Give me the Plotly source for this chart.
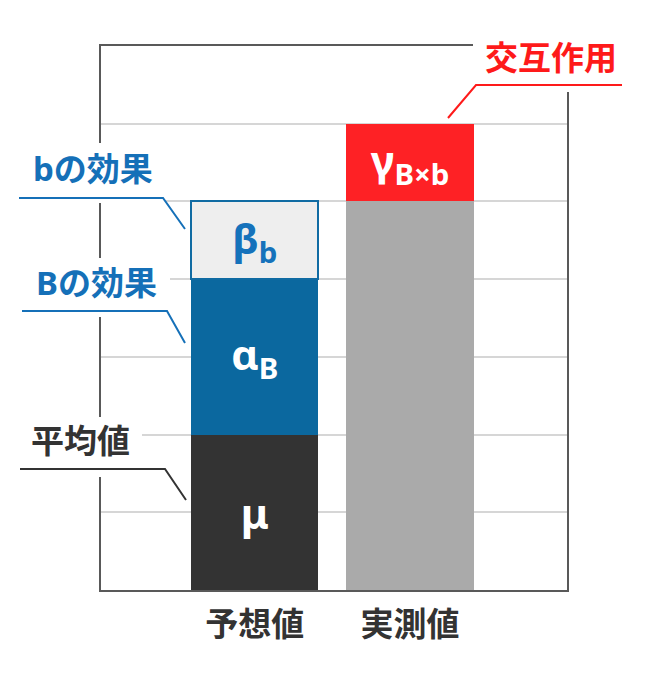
import plotly.graph_objects as go

categories = ["予想値", "実測値"]
grand_mean = [2, None]
effect_B = [2, None]
effect_b = [1, None]
observed = [None, 5]
interaction = [None, 1]

mu_text = ["μ", None]
alpha_text = ["α<sub>B</sub>", None]
beta_text = ["β<sub>b</sub>", None]
gamma_text = [None, "γ<sub>B×b</sub>"]
observed_text = [None, None]

FONT = "Noto Sans, Noto Sans CJK JP"
W, H = 654, 674
OFF = 8  # page body margin
# plot rectangle as seen in the window
PX0, PX1, PY0, PY1 = 101, 567, 46, 590


def fx(px):
    return (px - PX0) / (PX1 - PX0)


def fy(py):
    return (PY1 - py) / (PY1 - PY0)


def segment(vals, text, fill, txt_color, line_color=None, line_w=0):
    # keep only the categories this segment belongs to
    keep = [i for i, v in enumerate(vals) if v is not None]
    return go.Bar(
        x=[categories[i] for i in keep],
        y=[vals[i] for i in keep],
        text=[text[i] or "" for i in keep],
        width=0.82,
        marker=dict(color=fill, line=dict(color=line_color or fill, width=line_w)),
        textposition="inside" if any(text[i] for i in keep) else "none",
        insidetextanchor="middle",
        textangle=0,
        textfont=dict(family=FONT, size=42, color=txt_color, weight="bold"),
        hoverinfo="skip",
    )


fig = go.Figure(
    data=[
        segment(grand_mean, mu_text, "#333333", "white"),
        segment(effect_B, alpha_text, "#0b689f", "white"),
        segment(effect_b, beta_text, "#eeeeee", "#1572bb", "#106ba3", 2),
        segment(observed, observed_text, "#aaaaaa", "white"),
        segment(interaction, gamma_text, "#fe2125", "white"),
    ]
)

# white patches that break the frame behind the labels
covers = [
    (0, 143, 166, 203),
    (0, 258, 170, 317),
    (0, 417, 142, 477),
    (473, 0, 654, 92),
]
shapes = []
for x0, y0, x1, y1 in covers:
    shapes.append(dict(
        type="rect", xref="paper", yref="paper", layer="above",
        x0=fx(x0), x1=fx(x1), y0=fy(y1), y1=fy(y0),
        fillcolor="white", line=dict(width=0),
    ))

# leader lines: (points, colour)
leaders = [
    ([(19, 198), (163, 198), (185, 229)], "#1570b8"),
    ([(22, 311), (167, 311), (185, 343)], "#1570b8"),
    ([(20, 469), (165, 469), (186, 500)], "#333333"),
    ([(622, 85), (476, 85), (448, 118)], "#fe1a1a"),
]
for pts, col in leaders:
    path = "M " + " L ".join(f"{fx(px)},{fy(py)}" for px, py in pts)
    shapes.append(dict(
        type="path", xref="paper", yref="paper", layer="above",
        path=path, line=dict(color=col, width=2),
    ))

labels = [
    ("bの効果", 93, 168, "#1570b8"),
    ("Bの効果", 96, 282, "#1570b8"),
    ("平均値", 80, 440, "#333333"),
    ("交互作用", 551, 57, "#fe1a1a"),
]
annotations = [
    dict(
        text=txt, xref="paper", yref="paper", x=fx(px), y=fy(py),
        xanchor="center", yanchor="middle", showarrow=False,
        font=dict(family=FONT, size=33, color=col, weight="bold"),
    )
    for txt, px, py, col in labels
]

fig.update_layout(
    width=W,
    height=H,
    barmode="stack",
    showlegend=False,
    plot_bgcolor="white",
    paper_bgcolor="white",
    margin=dict(l=PX0 - OFF, r=W - PX1 + OFF, t=PY0 - OFF, b=H - PY1 + OFF),
    shapes=shapes,
    annotations=annotations,
    xaxis=dict(
        type="category",
        categoryorder="array",
        categoryarray=categories,
        range=[-0.99, 2.01],
        showline=True,
        mirror=True,
        linecolor="#595959",
        linewidth=1.5,
        showgrid=False,
        ticks="",
        ticklabelstandoff=5,
        tickfont=dict(family=FONT, size=33, color="#333333", weight="bold"),
    ),
    yaxis=dict(
        range=[0, 7],
        dtick=1,
        showgrid=True,
        gridcolor="#d6d6d6",
        gridwidth=1.5,
        zeroline=False,
        showline=True,
        mirror=True,
        linecolor="#595959",
        linewidth=1.5,
        showticklabels=False,
    ),
)

fig.write_html("out.html")
